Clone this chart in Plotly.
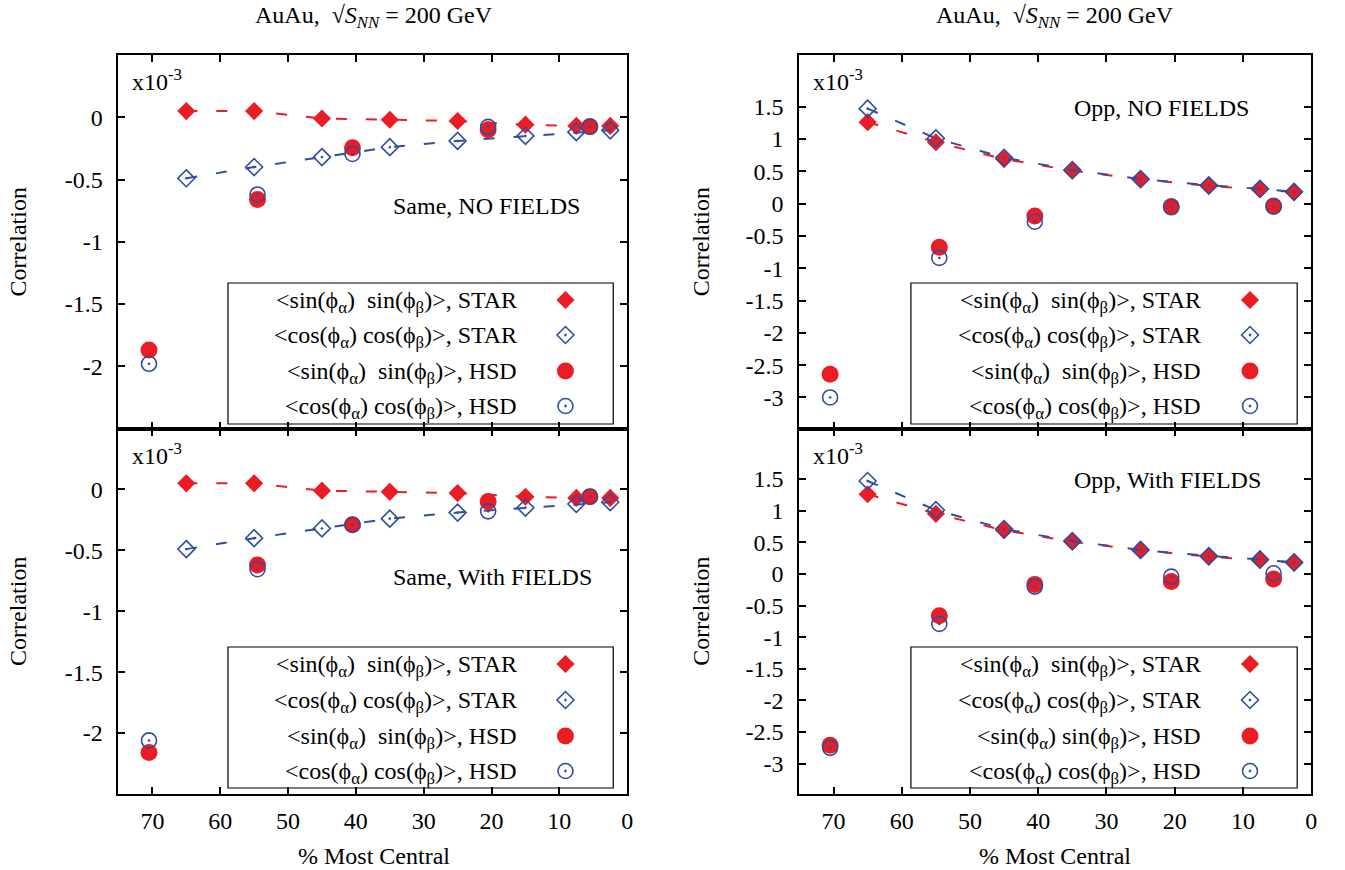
import plotly.graph_objects as go

# ---------------- data (correlations in units of 1e-3) ----------------
centrality_star = [65, 55, 45, 35, 25, 15, 7.5, 2.5]
centrality_hsd = [70.5, 54.5, 40.5, 20.5, 5.5]

# STAR measurements
star_same_sin = [0.05, 0.05, -0.01, -0.02, -0.03, -0.06, -0.07, -0.07]
star_same_cos = [-0.49, -0.40, -0.32, -0.24, -0.19, -0.15, -0.12, -0.105]
star_opp_sin = [1.26, 0.95, 0.69, 0.51, 0.377, 0.273, 0.22, 0.178]
star_opp_cos = [1.47, 1.01, 0.71, 0.52, 0.38, 0.283, 0.23, 0.183]

# HSD calculations
hsd_same_nofields_sin = [-1.87, -0.66, -0.245, -0.10, -0.075]
hsd_same_nofields_cos = [-1.98, -0.62, -0.295, -0.077, -0.077]
hsd_same_fields_sin = [-2.16, -0.62, -0.29, -0.10, -0.06]
hsd_same_fields_cos = [-2.06, -0.655, -0.29, -0.18, -0.06]
hsd_opp_nofields_sin = [-2.64, -0.675, -0.19, -0.046, -0.036]
hsd_opp_nofields_cos = [-3.0, -0.84, -0.28, -0.057, -0.046]
hsd_opp_fields_sin = [-2.71, -0.66, -0.165, -0.12, -0.08]
hsd_opp_fields_cos = [-2.75, -0.79, -0.20, -0.042, 0.01]

x_ticks = [70, 60, 50, 40, 30, 20, 10, 0]
y_ticks_same = [-2, -1.5, -1, -0.5, 0]
y_ticks_opp = [-3, -2.5, -2, -1.5, -1, -0.5, 0, 0.5, 1, 1.5]

# ---------------- styling ----------------
W, H = 1345, 870
FONT = "Liberation Serif"
RED = "#ec1c24"
BLUE = "#2f4ea2"
FS = 24


def fx(p):
    return p / W


def fy(p):
    return 1 - p / H


def fmt(v):
    return "%g" % v


panels = [
    dict(xd=(119, 630), yd=(55, 428.5), yr=[-2.5, 0.5], yt=y_ticks_same,
         label="Same, NO FIELDS", lab=(393, 206), bottom=False,
         sin_star=star_same_sin, cos_star=star_same_cos,
         sin_hsd=hsd_same_nofields_sin, cos_hsd=hsd_same_nofields_cos,
         box=(229, 283, 616, 424), txt_r=521.7, key_x=568,
         rows=[300, 335, 371, 406], double_space_hsd=True),
    dict(xd=(803, 1317), yd=(55, 428.5), yr=[-3.48, 2.3], yt=y_ticks_opp,
         label="Opp, NO FIELDS", lab=(1077, 108), bottom=False,
         sin_star=star_opp_sin, cos_star=star_opp_cos,
         sin_hsd=hsd_opp_nofields_sin, cos_hsd=hsd_opp_nofields_cos,
         box=(915, 283, 1303, 424), txt_r=1208, key_x=1255.6,
         rows=[300, 335, 371, 406], double_space_hsd=True),
    dict(xd=(119, 630), yd=(428.5, 794), yr=[-2.5, 0.5], yt=y_ticks_same,
         label="Same, With FIELDS", lab=(393, 577), bottom=True,
         sin_star=star_same_sin, cos_star=star_same_cos,
         sin_hsd=hsd_same_fields_sin, cos_hsd=hsd_same_fields_cos,
         box=(229, 647, 616, 788), txt_r=521.7, key_x=568,
         rows=[664, 700, 736, 771], double_space_hsd=True),
    dict(xd=(803, 1317), yd=(428.5, 794), yr=[-3.48, 2.3], yt=y_ticks_opp,
         label="Opp, With FIELDS", lab=(1077, 480), bottom=True,
         sin_star=star_opp_sin, cos_star=star_opp_cos,
         sin_hsd=hsd_opp_fields_sin, cos_hsd=hsd_opp_fields_cos,
         box=(915, 647, 1303, 788), txt_r=1208, key_x=1255.6,
         rows=[664, 700, 736, 771], double_space_hsd=False),
]

DASH = "11px,19px"
sym_styles = [
    dict(symbol="diamond", size=14, color=RED, line=dict(width=0)),
    dict(symbol="diamond-open-dot", size=13, color=BLUE, line=dict(width=1.6, color=BLUE)),
    dict(symbol="circle", size=17, color=RED, line=dict(width=0)),
    dict(symbol="circle-open-dot", size=15, color=BLUE, line=dict(width=1.6, color=BLUE)),
]

fig = go.Figure()
layout = dict(
    width=W, height=H,
    margin=dict(l=0, r=0, t=0, b=0),
    paper_bgcolor="white",
    plot_bgcolor="rgba(0,0,0,0)",
    showlegend=False,
    font=dict(family=FONT, size=FS, color="black"),
)
annotations = []
shapes = []

for i, p in enumerate(panels, start=1):
    xa = "x" if i == 1 else f"x{i}"
    ya = "y" if i == 1 else f"y{i}"
    common = dict(showline=True, linewidth=2, linecolor="black", mirror="ticks",
                  ticks="inside", ticklen=7, tickwidth=1.5, tickcolor="black",
                  showgrid=False, zeroline=False, fixedrange=True,
                  tickfont=dict(family=FONT, size=FS, color="black"))
    layout["xaxis" if i == 1 else f"xaxis{i}"] = dict(
        common, domain=[fx(p["xd"][0]), fx(p["xd"][1])], range=[75, 0],
        anchor=ya, tickmode="array", tickvals=x_ticks,
        ticktext=[fmt(v) for v in x_ticks], showticklabels=p["bottom"],
        ticklabelstandoff=4)
    layout["yaxis" if i == 1 else f"yaxis{i}"] = dict(
        common, domain=[fy(p["yd"][1]), fy(p["yd"][0])], range=p["yr"],
        anchor=xa, tickmode="array", tickvals=p["yt"],
        ticktext=[fmt(v) for v in p["yt"]], ticklabelstandoff=9)

    fig.add_trace(go.Scatter(x=centrality_star, y=p["sin_star"], mode="lines+markers",
                             line=dict(color=RED, width=2, dash=DASH),
                             marker=sym_styles[0], xaxis=xa, yaxis=ya))
    fig.add_trace(go.Scatter(x=centrality_star, y=p["cos_star"], mode="lines+markers",
                             line=dict(color=BLUE, width=2, dash=DASH),
                             marker=sym_styles[1], xaxis=xa, yaxis=ya))
    fig.add_trace(go.Scatter(x=centrality_hsd, y=p["sin_hsd"], mode="markers",
                             marker=sym_styles[2], xaxis=xa, yaxis=ya))
    fig.add_trace(go.Scatter(x=centrality_hsd, y=p["cos_hsd"], mode="markers",
                             marker=sym_styles[3], xaxis=xa, yaxis=ya))

    # x10^-3 multiplier
    annotations.append(dict(xref="paper", yref="paper", x=fx(p["xd"][0] + 12),
                            y=fy(p["yd"][0] + 25), xanchor="left", yanchor="middle",
                            text="x10<sup>-3</sup>", showarrow=False,
                            font=dict(size=FS)))
    # panel label
    annotations.append(dict(xref="paper", yref="paper", x=fx(p["lab"][0]),
                            y=fy(p["lab"][1]), xanchor="left", yanchor="middle",
                            text=p["label"], showarrow=False, font=dict(size=FS)))

    # key box
    bx0, by0, bx1, by1 = p["box"]
    shapes.append(dict(type="rect", xref="paper", yref="paper",
                       x0=fx(bx0), x1=fx(bx1), y0=fy(by1), y1=fy(by0),
                       line=dict(color="black", width=1.2)))
    sp2 = "\u00a0 "
    sp_hsd = sp2 if p["double_space_hsd"] else " "
    key_texts = [
        f"&lt;sin(ϕ<sub>α</sub>){sp2}sin(ϕ<sub>β</sub>)&gt;, STAR",
        "&lt;cos(ϕ<sub>α</sub>) cos(ϕ<sub>β</sub>)&gt;, STAR",
        f"&lt;sin(ϕ<sub>α</sub>){sp_hsd}sin(ϕ<sub>β</sub>)&gt;, HSD",
        "&lt;cos(ϕ<sub>α</sub>) cos(ϕ<sub>β</sub>)&gt;, HSD",
    ]
    for t, ry in zip(key_texts, p["rows"]):
        annotations.append(dict(xref="paper", yref="paper", x=fx(p["txt_r"]),
                                y=fy(ry + 2), xanchor="right", yanchor="middle",
                                text=t, showarrow=False, font=dict(size=FS)))
    # key samples on a full-page helper axis
    for k, ry in enumerate(p["rows"]):
        fig.add_trace(go.Scatter(x=[fx(p["key_x"])], y=[fy(ry)], mode="markers",
                                 marker=sym_styles[k], xaxis="x5", yaxis="y5",
                                 hoverinfo="skip"))

layout["xaxis5"] = dict(domain=[0, 1], range=[0, 1], visible=False, anchor="y5", fixedrange=True)
layout["yaxis5"] = dict(domain=[0, 1], range=[0, 1], visible=False, anchor="x5", fixedrange=True)

title_txt = "AuAu,\u00a0 √<i>S</i><sub><i>NN</i></sub> = 200 GeV"
for cx in (376, 1060):
    annotations.append(dict(xref="paper", yref="paper", x=fx(cx), y=fy(17),
                            xanchor="center", yanchor="middle", text=title_txt,
                            showarrow=False, font=dict(size=24)))
    annotations.append(dict(xref="paper", yref="paper", x=fx(cx), y=fy(856),
                            xanchor="center", yanchor="middle", text="% Most Central",
                            showarrow=False, font=dict(size=FS)))
for ax_x in (18, 704):
    for cy in (241.5, 611):
        annotations.append(dict(xref="paper", yref="paper", x=fx(ax_x), y=fy(cy),
                                xanchor="center", yanchor="middle", text="Correlation",
                                textangle=-90, showarrow=False, font=dict(size=FS)))

layout["annotations"] = annotations
layout["shapes"] = shapes
fig.update_layout(**layout)
fig.write_html("out.html")
